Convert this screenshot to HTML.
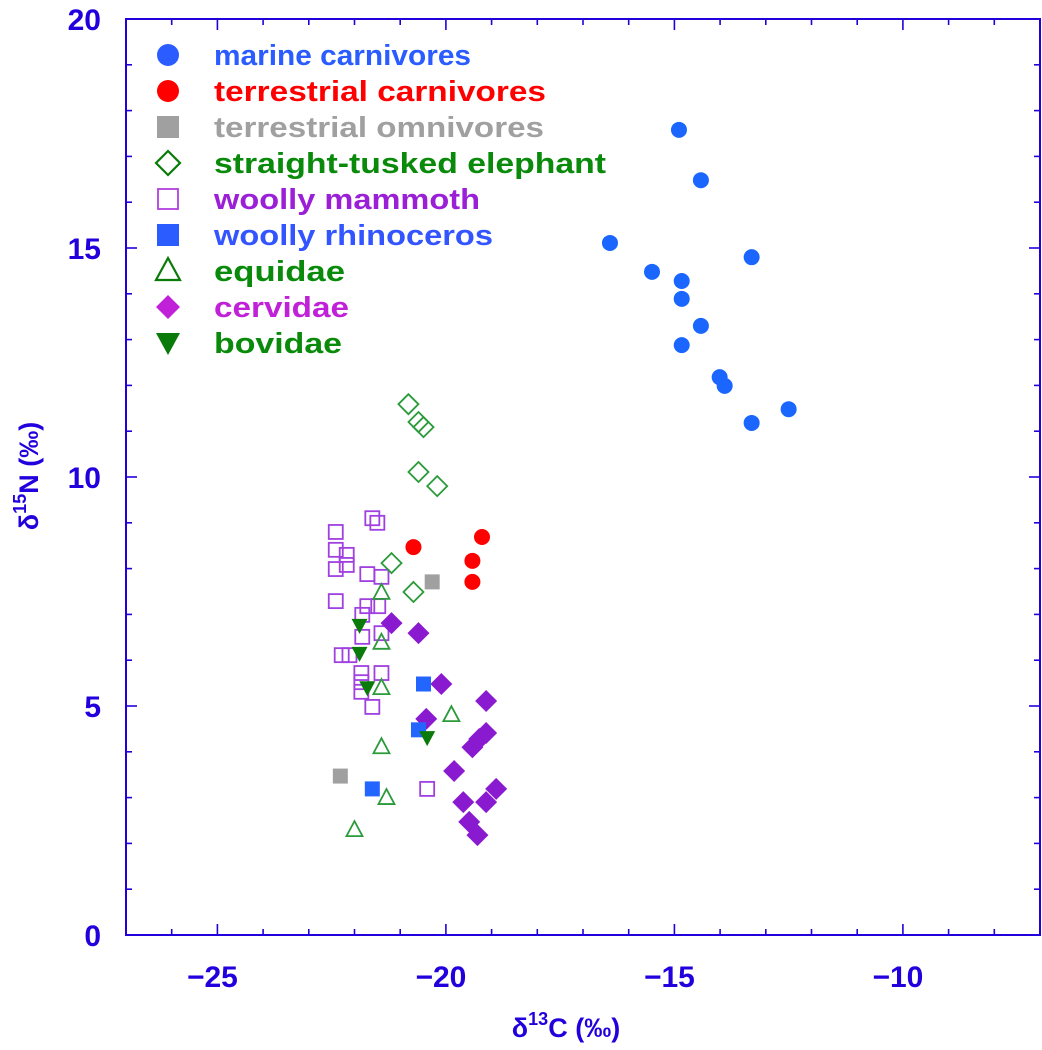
<!DOCTYPE html>
<html><head><meta charset="utf-8"><style>
html,body{margin:0;padding:0;background:#fff;}
svg{display:block;font-family:"Liberation Sans",Arial,sans-serif;font-weight:bold;}
</style></head><body>
<svg id="chart" width="1042" height="1050" viewBox="0 0 1042 1050">
<g id="axes"></g>
<g id="marks"></g>
<g id="legend"></g>
<text x="566" y="1037" text-anchor="middle" font-size="27" fill="#2200dd">δ<tspan font-size="18" dy="-12">13</tspan><tspan dy="12">C (‰)</tspan></text>
<text transform="translate(38,476) rotate(-90)" text-anchor="middle" font-size="27" fill="#2200dd">δ<tspan font-size="18" dy="-12">15</tspan><tspan dy="12">N (‰)</tspan></text>
</svg>
<script>
const xTicks=[-25,-20,-15,-10];
const yTicks=[0,5,10,15,20];
const marineX=[-14.90,-14.42,-16.41,-15.49,-14.84,-14.84,-13.31,-14.42,-14.84,-14.01,-13.90,-12.50,-13.31];
const marineY=[17.58,16.48,15.11,14.48,14.28,13.89,14.80,13.30,12.88,12.18,11.99,11.48,11.18];
const tcarnX=[-20.71,-19.21,-19.42,-19.42];
const tcarnY=[8.47,8.69,8.17,7.71];
const omniX=[-20.30,-22.31];
const omniY=[7.71,3.47];
const eleX=[-20.82,-20.60,-20.49,-20.60,-20.19,-21.19,-20.71];
const eleY=[11.59,11.20,11.09,10.11,9.80,8.12,7.49];
const mamX=[-21.61,-21.50,-22.41,-22.41,-22.17,-22.17,-22.41,-21.72,-21.41,-22.41,-21.72,-21.48,-21.83,-21.83,-21.41,-22.28,-22.11,-21.85,-21.41,-21.85,-21.85,-21.61,-20.41];
const mamY=[9.10,9.00,8.80,8.41,8.30,8.08,7.99,7.88,7.82,7.29,7.18,7.18,6.99,6.51,6.59,6.11,6.11,5.72,5.72,5.52,5.31,4.98,3.19];
const rhinoX=[-20.49,-20.60,-21.61];
const rhinoY=[5.48,4.48,3.19];
const equX=[-21.41,-21.41,-21.41,-19.88,-21.41,-21.30,-22.00];
const equY=[7.47,6.38,5.39,4.80,4.10,2.99,2.29];
const cerX=[-21.19,-20.60,-20.10,-19.12,-20.43,-19.12,-19.27,-19.42,-19.82,-18.90,-19.62,-19.12,-19.49,-19.31];
const cerY=[6.81,6.59,5.48,5.11,4.72,4.41,4.28,4.10,3.58,3.19,2.90,2.90,2.47,2.18];
const bovX=[-21.89,-21.89,-21.72,-20.41];
const bovY=[6.77,6.16,5.41,4.32];
const legendLabels=["marine carnivores","terrestrial carnivores","terrestrial omnivores","straight-tusked elephant","woolly mammoth","woolly rhinoceros","equidae","cervidae","bovidae"];

const NS="http://www.w3.org/2000/svg";
const L=126,R=1040,T=19,B=935;
const X0=-27,X1=-7,Y0=0,Y1=20;
function sx(v){return L+(v-X0)/(X1-X0)*(R-L);}
function sy(v){return B-(v-Y0)/(Y1-Y0)*(B-T);}
function mk(tag,attrs,parent){const e=document.createElementNS(NS,tag);for(const k in attrs)e.setAttribute(k,attrs[k]);parent.appendChild(e);return e;}
const AX="#2200dd";
const axes=document.getElementById('axes');
const frame=mk('rect',{x:L,y:T,width:R-L,height:B-T,fill:'none',stroke:AX,'stroke-width':2},axes);


for(let v=X0+1;v<X1;v++){
  const maj=xTicks.includes(v);const len=maj?11:6;const x=sx(v);
  const t1=mk('line',{x1:x,x2:x,y1:B,y2:B-len,stroke:AX,'stroke-width':1.6},axes);
  
  
  const t2=mk('line',{x1:x,x2:x,y1:T,y2:T+len,stroke:AX,'stroke-width':1.6},axes);
  
  
}
for(let v=Y0+1;v<Y1;v++){
  const maj=yTicks.includes(v);const len=maj?11:6;const y=sy(v);
  const t1=mk('line',{x1:L,x2:L+len,y1:y,y2:y,stroke:AX,'stroke-width':1.6},axes);
  
  
  const t2=mk('line',{x1:R,x2:R-len,y1:y,y2:y,stroke:AX,'stroke-width':1.6},axes);
  
  
}
xTicks.forEach(v=>{
  const t=mk('text',{x:sx(v)-5,y:B+52,'text-anchor':'middle','font-size':30,fill:AX},axes);
  
  
  t.textContent='\u2212'+Math.abs(v);
});
yTicks.forEach(v=>{
  const t=mk('text',{x:101,y:sy(v)+11,'text-anchor':'end','font-size':30,fill:AX},axes);
  
  
  t.textContent=String(v);
});
const C={marine:'#1a66ff',red:'#ff0000',gray:'#a0a0a0',green:'#2a9a3a',dgreen:'#0a7a0a',mam:'#a040e0',rhino:'#2266ff',cer:'#8a1ad0'};
function marker(type,x,y,g){
  let e;
  if(type==='circle')e=mk('circle',{cx:x,cy:y,r:8,fill:C.marine},g);
  else if(type==='circleR')e=mk('circle',{cx:x,cy:y,r:8,fill:C.red},g);
  else if(type==='sqGray')e=mk('rect',{x:x-7.5,y:y-7.5,width:15,height:15,fill:C.gray},g);
  else if(type==='sqBlue')e=mk('rect',{x:x-7.5,y:y-7.5,width:15,height:15,fill:C.rhino},g);
  else if(type==='sqOpen')e=mk('rect',{x:x-7,y:y-7,width:14,height:14,fill:'none',stroke:C.mam,'stroke-width':1.8},g);
  else if(type==='diaOpen')e=mk('polygon',{points:`${x},${y-10} ${x+10},${y} ${x},${y+10} ${x-10},${y}`,fill:'none',stroke:C.green,'stroke-width':1.8},g);
  else if(type==='diaFill')e=mk('polygon',{points:`${x},${y-11} ${x+11},${y} ${x},${y+11} ${x-11},${y}`,fill:C.cer},g);
  else if(type==='triOpen')e=mk('polygon',{points:`${x},${y-9} ${x+8},${y+6} ${x-8},${y+6}`,fill:'none',stroke:C.green,'stroke-width':1.8},g);
  else if(type==='triDown')e=mk('polygon',{points:`${x-8},${y-6} ${x+8},${y-6} ${x},${y+9}`,fill:C.dgreen},g);
  return e;
}
const marks=document.getElementById('marks');
const series=[
 ['mammoth','sqOpen',mamX,mamY],['elephant','diaOpen',eleX,eleY],['equidae','triOpen',equX,equY],
 ['cervidae','diaFill',cerX,cerY],['rhino','sqBlue',rhinoX,rhinoY],['bovidae','triDown',bovX,bovY],
 ['omnivore','sqGray',omniX,omniY],['terrestrial-carnivore','circleR',tcarnX,tcarnY],['marine-carnivore','circle',marineX,marineY]
];
series.forEach(s=>{
  const g=mk('g',{},marks);
  
  
  s[2].forEach((xv,i)=>{
    const e=marker(s[1],sx(xv),sy(s[3][i]),g);
    
    
  });
});
const legend=document.getElementById('legend');
const lt=['circle','circleR','sqGray','diaOpen','sqOpen','sqBlue','triOpen','diaFill','triDown'];
const lc=['#2a5cff','#ff0000','#a0a0a0','#0a8a0a','#9a1fd6','#3355ff','#0a8a0a','#c020d8','#0a8a0a'];
const lw=[257,332,330,392,266,279,131,135,128];
legendLabels.forEach((lab,i)=>{
  const y=55+i*36;
  const g=mk('g',{},legend);
  
  
  let m;
  if(lt[i]==='circle')m=mk('circle',{cx:168,cy:y,r:11,fill:'#2a5cff'},g);
  else if(lt[i]==='circleR')m=mk('circle',{cx:168,cy:y,r:11,fill:'#ff0000'},g);
  else if(lt[i]==='sqGray')m=mk('rect',{x:157,y:y-11,width:22,height:22,fill:'#a0a0a0'},g);
  else if(lt[i]==='sqBlue')m=mk('rect',{x:157,y:y-11,width:22,height:22,fill:'#2a5cff'},g);
  else if(lt[i]==='sqOpen')m=mk('rect',{x:158,y:y-10,width:20,height:20,fill:'none',stroke:'#b040e0','stroke-width':1.8},g);
  else if(lt[i]==='diaOpen')m=mk('polygon',{points:`168,${y-12} 180,${y} 168,${y+12} 156,${y}`,fill:'none',stroke:'#0a7a0a','stroke-width':2.2},g);
  else if(lt[i]==='diaFill')m=mk('polygon',{points:`168,${y-12} 180,${y} 168,${y+12} 156,${y}`,fill:'#c020d8'},g);
  else if(lt[i]==='triOpen')m=mk('polygon',{points:`168,${y-13} 180,${y+9} 156,${y+9}`,fill:'none',stroke:'#0a7a0a','stroke-width':2.2},g);
  else m=mk('polygon',{points:`156,${y-10} 180,${y-10} 168,${y+12}`,fill:'#0a7a0a'},g);
  
  
  const t=mk('text',{x:214,y:y+10,'font-size':29,fill:lc[i],textLength:lw[i],lengthAdjust:'spacingAndGlyphs'},g);
  
  
  t.textContent=lab;
});
</script>
</body></html>
